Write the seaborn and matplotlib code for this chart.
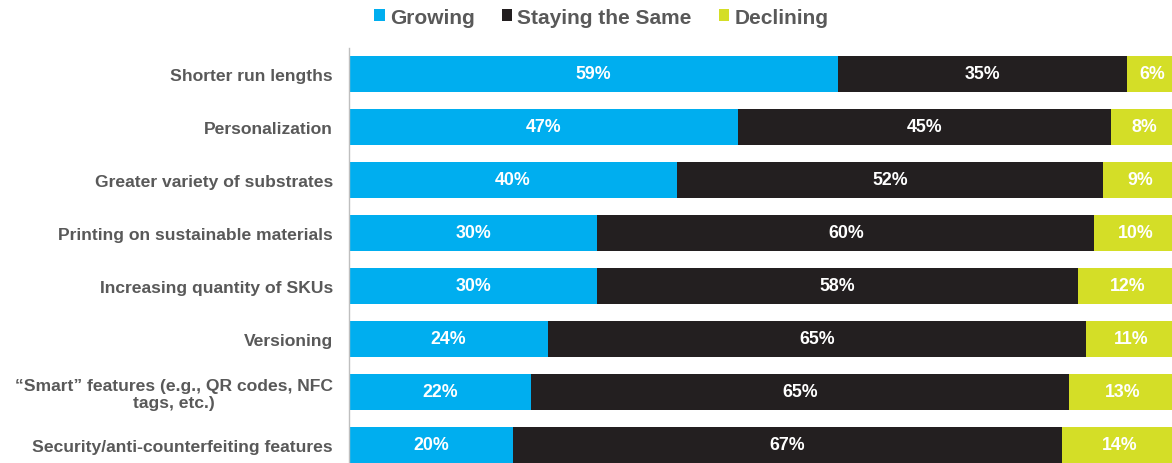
import numpy as np
import pandas as pd
import seaborn as sns
import matplotlib.pyplot as plt
from matplotlib.patches import Patch

categories = [
    "Shorter run lengths",
    "Personalization",
    "Greater variety of substrates",
    "Printing on sustainable materials",
    "Increasing quantity of SKUs",
    "Versioning",
    "\u201cSmart\u201d features (e.g., QR codes, NFC\ntags, etc.)",
    "Security/anti-counterfeiting features",
]
growing = [59, 47, 40, 30, 30, 24, 22, 20]
staying = [35, 45, 52, 60, 58, 65, 65, 67]
declining = [6, 8, 9, 10, 12, 11, 13, 14]

series_names = ["Growing", "Staying the Same", "Declining"]
colors = ["#00AEEF", "#231F20", "#D4DE27"]
text_gray = "#595959"

sns.set_theme(style="white")
plt.rcParams["font.family"] = ["Liberation Sans", "DejaVu Sans"]

df = pd.DataFrame(
    {"category": categories, "Growing": growing,
     "Staying the Same": staying, "Declining": declining}
)
# 100% stacked: each row is scaled to its own total
total = df[series_names].sum(axis=1)
shares = df[series_names].div(total, axis=0) * 100
cum = shares.cumsum(axis=1)

fig = plt.figure(figsize=(11.72, 4.64), dpi=100)
ax = fig.add_axes([349 / 1172, 1 - 472.5 / 464, 828 / 1172, 424 / 464])

# draw from the outermost cumulative layer inwards
for name, color in reversed(list(zip(series_names, colors))):
    sns.barplot(
        x=cum[name], y=df["category"], color=color, orient="h",
        width=0.69, saturation=1, ax=ax, linewidth=0,
    )

left = cum - shares
for name in series_names:
    for i in range(len(df)):
        ax.text(
            left[name].iloc[i] + shares[name].iloc[i] / 2, i,
            f"{df[name].iloc[i]}%", ha="center", va="center",
            color="white", fontsize=12.8, fontweight="bold",
        )

ax.set_xlim(0, 100)
ax.set_ylim(7.5, -0.5)
ax.set_xlabel("")
ax.set_ylabel("")
ax.set_xticks([])
ax.tick_params(axis="y", length=0, pad=11.5)
for lab in ax.get_yticklabels():
    lab.set_fontsize(12.6)
    lab.set_fontweight("bold")
    lab.set_color(text_gray)
    lab.set_multialignment("center")
    lab.set_linespacing(1.1)

for side in ["top", "right", "bottom"]:
    ax.spines[side].set_visible(False)
ax.spines["left"].set_color("#BFBFBF")
ax.spines["left"].set_linewidth(1)

handles = [Patch(facecolor=c, edgecolor="none") for c in colors]
leg = fig.legend(
    handles, series_names, loc="center", bbox_to_anchor=(0.513, 1 - 18 / 464),
    ncol=3, frameon=False, handlelength=0.5, handleheight=0.5,
    handletextpad=0.25, columnspacing=1.3,
    prop={"size": 15, "weight": "bold"},
)
for t in leg.get_texts():
    t.set_color(text_gray)

fig.savefig("out.png", dpi=100)
